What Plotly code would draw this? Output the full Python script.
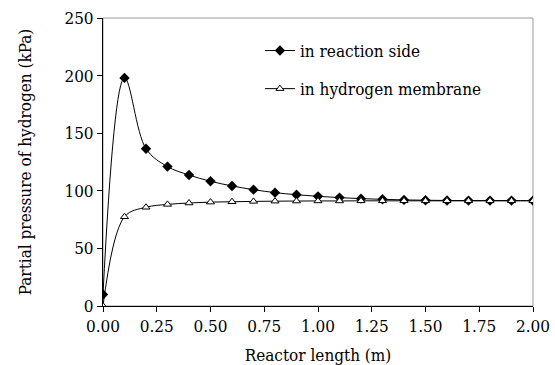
import plotly.graph_objects as go

x_vals = [0.0, 0.1, 0.2, 0.3, 0.4, 0.5, 0.6, 0.7, 0.8, 0.9, 1.0, 1.1, 1.2, 1.3, 1.4, 1.5, 1.6, 1.7, 1.8, 1.9, 2.0]
reaction_side = [10, 198, 136.5, 121, 113.7, 108.3, 104.2, 101, 98.4, 96.6, 95.2, 94.1, 93.2, 92.6, 92.1, 91.8, 91.6, 91.5, 91.5, 91.5, 91.5]
membrane = [0, 77.5, 85.7, 88.2, 89.4, 90.2, 90.5, 90.8, 91, 91.1, 91.2, 91.2, 91.3, 91.3, 91.3, 91.3, 91.3, 91.3, 91.3, 91.3, 91.3]
x_ticks = [0.0, 0.25, 0.5, 0.75, 1.0, 1.25, 1.5, 1.75, 2.0]
x_tick_labels = ["0.00", "0.25", "0.50", "0.75", "1.00", "1.25", "1.50", "1.75", "2.00"]
y_ticks = [0, 50, 100, 150, 200, 250]

FONT = "DejaVu Serif Condensed"
FS = 17

fig = go.Figure()
fig.add_trace(go.Scatter(
    x=x_vals, y=reaction_side, name="in reaction side", legendgroup="a",
    mode="lines+markers", line=dict(color="black", width=1, shape="spline", smoothing=1.0),
    marker=dict(symbol="diamond", size=8, color="black"),
))
fig.add_trace(go.Scatter(
    x=x_vals, y=membrane, name="in hydrogen membrane", legendgroup="b",
    mode="lines+markers", line=dict(color="black", width=1, shape="spline", smoothing=1.0),
    marker=dict(symbol="triangle-up", size=7, color="white", line=dict(color="black", width=1)),
))

fig.add_shape(type="rect", xref="paper", yref="paper", x0=0, x1=1, y0=0, y1=1,
              line=dict(color="#999999", width=1), layer="below")

fig.update_layout(
    width=555, height=365,
    margin=dict(l=103, r=22, t=18, b=59),
    paper_bgcolor="white", plot_bgcolor="white",
    font=dict(family=FONT, size=FS, color="black"),
    showlegend=True,
    legend=dict(x=0.365, y=0.948, xanchor="left", yanchor="top", bgcolor="rgba(0,0,0,0)",
                font=dict(family=FONT, size=FS), itemwidth=30, tracegroupgap=13),
    xaxis=dict(range=[0, 2.0], tickvals=x_ticks, ticktext=x_tick_labels, showgrid=False,
               zeroline=False, showline=True, linecolor="black", linewidth=1,
               ticks="outside", ticklen=5, tickcolor="black", automargin=False,
               tickfont=dict(family=FONT, size=FS),
               title=dict(text="Reactor length (m)", font=dict(family=FONT, size=FS), standoff=13)),
    yaxis=dict(range=[0, 250], tickvals=y_ticks, showgrid=False, zeroline=False,
               showline=True, linecolor="black", linewidth=1,
               ticks="outside", ticklen=5, tickcolor="black", automargin=False,
               tickfont=dict(family=FONT, size=FS),
               title=dict(text="Partial pressure of hydrogen (kPa)", font=dict(family=FONT, size=FS), standoff=28)),
)

fig.write_html("out.html")
